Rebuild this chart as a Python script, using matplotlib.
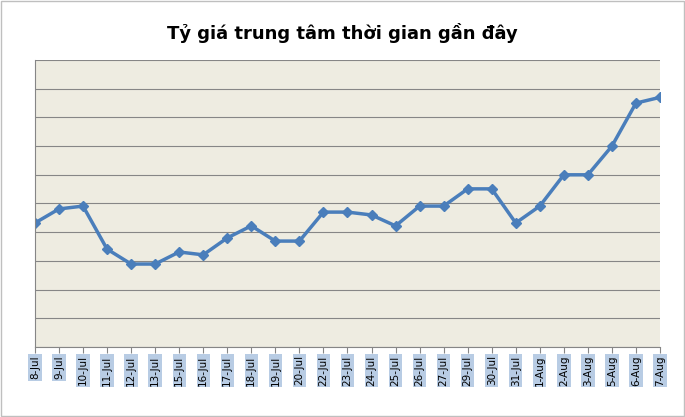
import matplotlib.pyplot as plt
from matplotlib.patches import Rectangle

dates = ["8-Jul", "9-Jul", "10-Jul", "11-Jul", "12-Jul", "13-Jul", "15-Jul", "16-Jul",
         "17-Jul", "18-Jul", "19-Jul", "20-Jul", "22-Jul", "23-Jul", "24-Jul", "25-Jul",
         "26-Jul", "27-Jul", "29-Jul", "30-Jul", "31-Jul", "1-Aug", "2-Aug", "3-Aug",
         "5-Aug", "6-Aug", "7-Aug"]
rates = [4.32, 4.81, 4.91, 3.41, 2.89, 2.89, 3.31, 3.21, 3.80, 4.22, 3.69, 3.69,
         4.70, 4.70, 4.60, 4.22, 4.91, 4.91, 5.51, 5.51, 4.32, 4.91, 6.0, 6.0,
         7.0, 8.5, 8.7]

fig = plt.figure(figsize=(6.85, 4.17), dpi=100)
fig.patches.append(Rectangle((0.001, 0.002), 0.997, 0.996, transform=fig.transFigure,
                             fill=False, edgecolor="#bfbfbf", linewidth=1))
ax = fig.add_axes([0.051, 0.168, 0.9125, 0.688])
ax.set_facecolor("#eeece1")

x = list(range(len(dates)))
ax.plot(x, rates, color="#4a7ebb", linewidth=2.5, marker="D", markersize=5)
ax.set_xlim(0, len(dates) - 1)
ax.set_ylim(0, 10)
ax.set_yticks(range(11))
ax.set_yticklabels([])
ax.tick_params(axis="y", length=0)
ax.grid(axis="y", color="#868686", linewidth=0.8)
ax.set_axisbelow(True)
for s in ["top", "right"]:
    ax.spines[s].set_visible(False)
ax.spines["left"].set_color("#868686")
ax.spines["bottom"].set_color("#868686")

ax.set_xticks(x)
ax.set_xticklabels(dates, rotation=90, fontsize=7.5, va="top")
ax.tick_params(axis="x", length=4, color="#868686", pad=2)
for lbl in ax.get_xticklabels():
    lbl.set_bbox(dict(facecolor="#b8cce4", edgecolor="none", pad=1.2))

fig.suptitle("Tỷ giá trung tâm thời gian gần đây", fontsize=13, fontweight="bold", y=0.945)
fig.savefig("out.png", dpi=100)
